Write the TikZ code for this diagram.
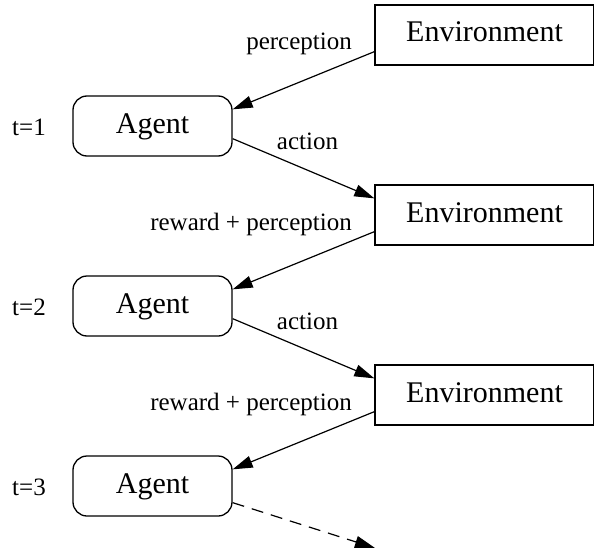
\documentclass[tikz,border=0pt]{standalone}
\usepackage{fontspec}
\setmainfont{Liberation Serif}
\usetikzlibrary{arrows.meta,calc}
\begin{document}
\begin{tikzpicture}[x=1pt,y=-1pt,
  env/.style={draw,line width=1.3pt,minimum width=219pt,minimum height=60pt,inner sep=0pt,
    text height=20pt,text depth=6pt,font=\fontsize{30}{36}\selectfont},
  agent/.style={draw,line width=1.3pt,rounded corners=14pt,minimum width=159pt,minimum height=60pt,inner sep=0pt,
    text height=20pt,text depth=6pt,font=\fontsize{30}{36}\selectfont},
  lbl/.style={font=\fontsize{25}{30}\selectfont,inner sep=0pt},
  conn/.style={line width=1.2pt,-{Triangle[length=20pt,width=12pt]}}]
\clip (0,0) rectangle (594,551);
% environment boxes (the right side runs off the page)
\node[env] (e1) at (484.5,35) {Environment};
\node[env] (e2) at (484.5,215) {Environment};
\node[env] (e3) at (484.5,395) {Environment};
% agent boxes
\node[agent] (a1) at (152.5,126) {Agent\hspace{9pt}};
\node[agent] (a2) at (152.5,306) {Agent\hspace{9pt}};
\node[agent] (a3) at (152.5,486) {Agent\hspace{9pt}};
% time steps
\node[lbl,anchor=base west] (t1) at (12,135) {t=1};
\node[lbl,anchor=base west] (t2) at (12,315) {t=2};
\node[lbl,anchor=base west] (t3) at (12,495) {t=3};
% edge labels
\node[lbl,anchor=base east] (p1) at (352,50) {perception};
\node[lbl,anchor=base] (c1) at (307.5,149) {action};
\node[lbl,anchor=base east] (p2) at (352,230) {reward + perception};
\node[lbl,anchor=base] (c2) at (307.5,329) {action};
\node[lbl,anchor=base east] (p3) at (352,410) {reward + perception};
% connectors
\draw[conn] ($(e1.south west)+(0,-14)$) -- ($(a1.north east)+(0,14)$);
\draw[conn] ($(a1.south east)+(0,-18)$) -- ($(e2.north west)+(0,14)$);
\draw[conn] ($(e2.south west)+(0,-14)$) -- ($(a2.north east)+(0,14)$);
\draw[conn] ($(a2.south east)+(0,-18)$) -- ($(e3.north west)+(0,14)$);
\draw[conn] ($(e3.south west)+(0,-14)$) -- ($(a3.north east)+(0,14)$);
\coordinate (next) at (375,548);
\draw[conn,dash pattern=on 12pt off 8pt] ($(a3.south east)+(0,-14)$) -- (next);
\end{tikzpicture}
\end{document}
